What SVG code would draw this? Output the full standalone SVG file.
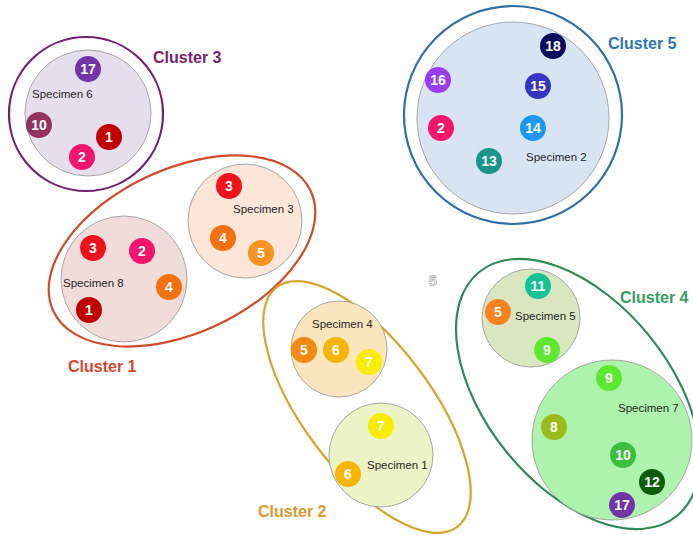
<svg xmlns="http://www.w3.org/2000/svg" width="693" height="535" viewBox="0 0 693 535">
<style>
.cl{fill:none;stroke-width:2.2}
.sp{stroke:#a6a6a6;stroke-width:1}
.sl{font-family:"Liberation Sans",Arial,sans-serif;font-size:11.5px;fill:#262626}
.ct{font-family:"Liberation Sans",Arial,sans-serif;font-size:16px;font-weight:bold}
.n text{font-family:"Liberation Sans",Arial,sans-serif;font-size:14px;font-weight:bold;fill:#fff;text-anchor:middle}
.n circle{r:13px}
.c1{fill:#c00000}.c2{fill:#f5136b}.c3{fill:#f2101a}.c4{fill:#f5700f}.c5{fill:#f7931e}
.c6{fill:#f7b400}.c7{fill:#f8ec00}.c8{fill:#9bbb1a}.c9{fill:#5de830}.c10{fill:#3cbf3c}
.c11{fill:#14c394}.c12{fill:#0a5c0a}.c13{fill:#17978a}.c14{fill:#1a98f5}.c15{fill:#3535c0}
.c16{fill:#9b3cf0}.c17{fill:#7334a8}.c18{fill:#0a0a5e}
</style>

<!-- Cluster 3 -->
<g id="cluster3">
  <circle class="cl" cx="86" cy="114" r="77" stroke="#70206e"/>
  <text class="ct" x="153" y="63" fill="#7a1f6f">Cluster 3</text>
  <g id="specimen6">
    <circle class="sp" cx="88" cy="113" r="63" fill="#e4deed"/>
    <text class="sl" x="32" y="98">Specimen 6</text>
    <g class="n" id="s6-17"><circle class="c17" cx="88" cy="69"/><text x="88" y="74">17</text></g>
    <g class="n" id="s6-10"><circle class="c10" cx="39" cy="125" style="fill:#93325e"/><text x="39" y="130">10</text></g>
    <g class="n" id="s6-1"><circle class="c1" cx="109" cy="137"/><text x="109" y="142">1</text></g>
    <g class="n" id="s6-2"><circle class="c2" cx="82" cy="157"/><text x="82" y="162">2</text></g>
  </g>
</g>

<!-- Cluster 1 -->
<g id="cluster1">
  <ellipse class="cl" cx="182" cy="251" rx="142" ry="82" transform="rotate(-25 182 251)" stroke="#d24a27"/>
  <text class="ct" x="68" y="372" fill="#d9472b">Cluster 1</text>
  <g id="specimen8">
    <circle class="sp" cx="124" cy="279" r="63" fill="#f0dcd9"/>
    <text class="sl" x="63" y="287">Specimen 8</text>
    <g class="n" id="s8-3"><circle class="c3" cx="93" cy="248"/><text x="93" y="253">3</text></g>
    <g class="n" id="s8-2"><circle class="c2" cx="142" cy="251"/><text x="142" y="256">2</text></g>
    <g class="n" id="s8-4"><circle class="c4" cx="169" cy="287"/><text x="169" y="292">4</text></g>
    <g class="n" id="s8-1"><circle class="c1" cx="89" cy="310"/><text x="89" y="315">1</text></g>
  </g>
  <g id="specimen3">
    <circle class="sp" cx="245" cy="221" r="57" fill="#fbe6d7"/>
    <text class="sl" x="233" y="213">Specimen 3</text>
    <g class="n" id="s3-3"><circle class="c3" cx="229" cy="186"/><text x="229" y="191">3</text></g>
    <g class="n" id="s3-4"><circle class="c4" cx="223" cy="238"/><text x="223" y="243">4</text></g>
    <g class="n" id="s3-5"><circle class="c5" cx="261" cy="253"/><text x="261" y="258">5</text></g>
  </g>
</g>

<!-- Cluster 5 -->
<g id="cluster5">
  <circle class="cl" cx="513" cy="115" r="109" stroke="#2e6fa6"/>
  <text class="ct" x="608" y="49" fill="#2e75b6">Cluster 5</text>
  <g id="specimen2">
    <circle class="sp" cx="513" cy="118" r="96" fill="#d9e4f2"/>
    <text class="sl" x="526" y="161">Specimen 2</text>
    <g class="n" id="s2-18"><circle class="c18" cx="553" cy="46"/><text x="553" y="51">18</text></g>
    <g class="n" id="s2-16"><circle class="c16" cx="438" cy="80"/><text x="438" y="85">16</text></g>
    <g class="n" id="s2-15"><circle class="c15" cx="538" cy="86"/><text x="538" y="91">15</text></g>
    <g class="n" id="s2-2"><circle class="c2" cx="441" cy="128"/><text x="441" y="133">2</text></g>
    <g class="n" id="s2-14"><circle class="c14" cx="533" cy="128"/><text x="533" y="133">14</text></g>
    <g class="n" id="s2-13"><circle class="c13" cx="489" cy="161"/><text x="489" y="166">13</text></g>
  </g>
</g>

<!-- Cluster 2 -->
<g id="cluster2">
  <ellipse class="cl" cx="367" cy="407" rx="150" ry="64" transform="rotate(53 367 407)" stroke="#d6a52a"/>
  <text class="ct" x="258" y="517" fill="#e6952a">Cluster 2</text>
  <g id="specimen4">
    <circle class="sp" cx="339" cy="349" r="48" fill="#fbe5bd"/>
    <text class="sl" x="312" y="328">Specimen 4</text>
    <g class="n" id="s4-5"><circle class="c5" cx="304" cy="350" style="fill:#f28a12"/><text x="304" y="355">5</text></g>
    <g class="n" id="s4-6"><circle class="c6" cx="336" cy="350"/><text x="336" y="355">6</text></g>
    <g class="n" id="s4-7"><circle class="c7" cx="369" cy="362"/><text x="369" y="367">7</text></g>
  </g>
  <g id="specimen1">
    <circle class="sp" cx="381" cy="455" r="52" fill="#ecf3c6"/>
    <text class="sl" x="367" y="469">Specimen 1</text>
    <g class="n" id="s1-7"><circle class="c7" cx="381" cy="426"/><text x="381" y="431">7</text></g>
    <g class="n" id="s1-6"><circle class="c6" cx="348" cy="474"/><text x="348" y="479">6</text></g>
  </g>
</g>

<!-- stray label -->
<text x="433" y="286" font-family="Liberation Sans,Arial,sans-serif" font-size="14" font-weight="bold" fill="#fff" stroke="#b0b0b0" stroke-width="0.8" text-anchor="middle">5</text>

<!-- Cluster 4 -->
<g id="cluster4">
  <ellipse class="cl" cx="578" cy="394" rx="157" ry="92" transform="rotate(51 578 394)" stroke="#2d8a57"/>
  <text class="ct" x="620" y="303" fill="#33a060">Cluster 4</text>
  <g id="specimen5">
    <circle class="sp" cx="531" cy="318" r="49" fill="#d9e6c0"/>
    <text class="sl" x="515" y="320">Specimen 5</text>
    <g class="n" id="s5-11"><circle class="c11" cx="538" cy="286"/><text x="538" y="291">11</text></g>
    <g class="n" id="s5-5"><circle class="c5" cx="498" cy="312" style="fill:#f7821e"/><text x="498" y="317">5</text></g>
    <g class="n" id="s5-9"><circle class="c9" cx="547" cy="350"/><text x="547" y="355">9</text></g>
  </g>
  <g id="specimen7">
    <circle class="sp" cx="612" cy="440" r="80" fill="#adf2ad"/>
    <text class="sl" x="618" y="412">Specimen 7</text>
    <g class="n" id="s7-9"><circle class="c9" cx="609" cy="378"/><text x="609" y="383">9</text></g>
    <g class="n" id="s7-8"><circle class="c8" cx="554" cy="427"/><text x="554" y="432">8</text></g>
    <g class="n" id="s7-10"><circle class="c10" cx="623" cy="455"/><text x="623" y="460">10</text></g>
    <g class="n" id="s7-12"><circle class="c12" cx="652" cy="482"/><text x="652" y="487">12</text></g>
    <g class="n" id="s7-17"><circle class="c17" cx="622" cy="505"/><text x="622" y="510">17</text></g>
  </g>
</g>
</svg>
